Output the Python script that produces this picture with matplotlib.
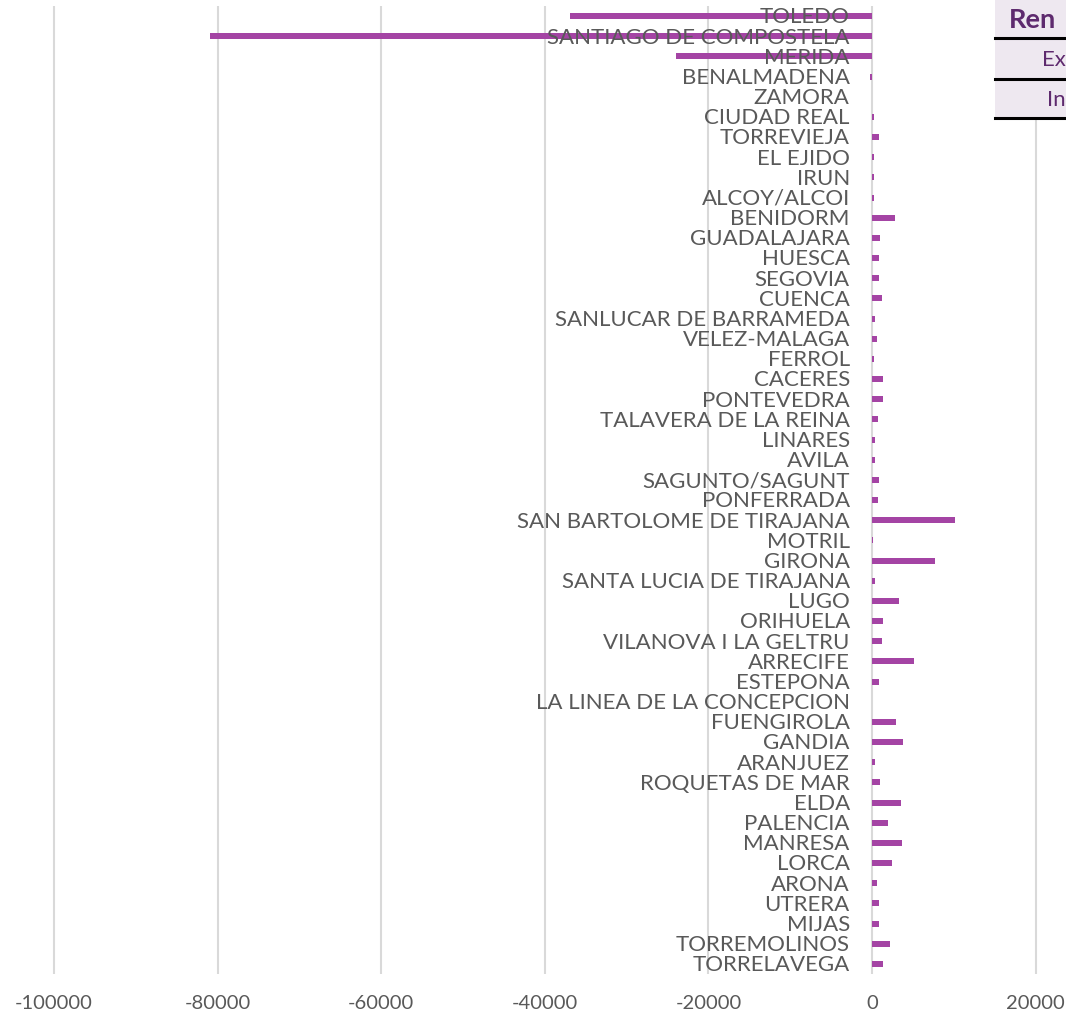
import matplotlib.pyplot as plt
from matplotlib.patches import Rectangle
from matplotlib.lines import Line2D

# cities, top to bottom
cities = [
    'TOLEDO', 'SANTIAGO DE COMPOSTELA', 'MERIDA', 'BENALMADENA', 'ZAMORA',
    'CIUDAD REAL', 'TORREVIEJA', 'EL EJIDO', 'IRUN', 'ALCOY/ALCOI',
    'BENIDORM', 'GUADALAJARA', 'HUESCA', 'SEGOVIA', 'CUENCA',
    'SANLUCAR DE BARRAMEDA', 'VELEZ-MALAGA', 'FERROL', 'CACERES', 'PONTEVEDRA',
    'TALAVERA DE LA REINA', 'LINARES', 'AVILA', 'SAGUNTO/SAGUNT', 'PONFERRADA',
    'SAN BARTOLOME DE TIRAJANA', 'MOTRIL', 'GIRONA', 'SANTA LUCIA DE TIRAJANA', 'LUGO',
    'ORIHUELA', 'VILANOVA I LA GELTRU', 'ARRECIFE', 'ESTEPONA', 'LA LINEA DE LA CONCEPCION',
    'FUENGIROLA', 'GANDIA', 'ARANJUEZ', 'ROQUETAS DE MAR', 'ELDA',
    'PALENCIA', 'MANRESA', 'LORCA', 'ARONA', 'UTRERA',
    'MIJAS', 'TORREMOLINOS', 'TORRELAVEGA',
]
values = [
    -36900, -80900, -24000, -200, 0,
    250, 800, 250, 250, 250,
    2850, 1000, 800, 800, 1200,
    350, 600, 250, 1300, 1300,
    700, 400, 400, 800, 700,
    10200, 100, 7750, 350, 3250,
    1400, 1200, 5100, 800, 50,
    2900, 3800, 400, 1000, 3500,
    2000, 3700, 2400, 650, 800,
    900, 2200, 1400,
]
xticks = [-100000, -80000, -60000, -40000, -20000, 0, 20000]
table_rows = ['Ren', 'Ex', 'In']

bar_color = '#a444a4'
text_grey = '#595959'
grid_grey = '#d9d9d9'
table_purple = '#5e2a6e'

W, H = 1066, 1017
fig = plt.figure(figsize=(W / 100, H / 100), dpi=100)
fig.patch.set_facecolor('white')

# axes placement in pixels: x=0 at 872 px, 8.18 px per 1000
x0_px, scale = 872, 8.18 / 1000
xmin, xmax = -106000, 30000
left_px = x0_px + xmin * scale
width_px = (xmax - xmin) * scale
top_px, bot_px = 6, 974
ax = fig.add_axes([left_px / W, (H - bot_px) / H, width_px / W, (bot_px - top_px) / H])

n = len(cities)
ypos = list(range(n))
ax.barh(ypos, values, height=0.3, color=bar_color, zorder=2)

for i, name in enumerate(cities):
    ax.annotate(name, xy=(0, i), xytext=(-16, -1), textcoords='offset points',
                ha='right', va='center', fontsize=16, color=text_grey,
                family=['Lato', 'DejaVu Sans'], zorder=3)

ax.set_xlim(xmin, xmax)
ax.set_ylim(n - 0.5, -0.5)
ax.set_yticks([])
ax.set_xticks(xticks)
ax.set_xticklabels([str(t) for t in xticks])
for lab in ax.get_xticklabels():
    lab.set_family(['Lato', 'DejaVu Sans'])
ax.tick_params(axis='x', length=0, pad=15, labelsize=14.5, labelcolor=text_grey)
ax.grid(axis='x', color=grid_grey, linewidth=1.5, zorder=0)
ax.set_axisbelow(True)
for s in ax.spines.values():
    s.set_visible(False)

# partial table cut off at the right edge
tx0 = 995
row_edges = [0, 38, 79, 118]
for r in range(3):
    y_top, y_bot = row_edges[r], row_edges[r + 1]
    fig.patches.append(Rectangle((tx0 / W, (H - y_bot) / H), (W - tx0) / W, (y_bot - y_top) / H,
                                 transform=fig.transFigure, facecolor='#eee8f0', edgecolor='none', zorder=0))
    fig.lines.append(Line2D([tx0 / W, 1], [(H - y_bot) / H] * 2, transform=fig.transFigure,
                            color='black', linewidth=2.2, zorder=5))
fig.text(1009 / W, (H - 20) / H, table_rows[0], fontsize=19.5, fontweight='bold', color=table_purple,
         family=['Lato', 'DejaVu Sans'], va='center', ha='left', zorder=6)
fig.text(1042 / W, (H - 60) / H, table_rows[1], fontsize=16, color=table_purple,
         family=['Lato', 'DejaVu Sans'], va='center', ha='left', zorder=6)
fig.text(1047 / W, (H - 100) / H, table_rows[2], fontsize=16, color=table_purple,
         family=['Lato', 'DejaVu Sans'], va='center', ha='left', zorder=6)

fig.savefig('out.png', dpi=100)
